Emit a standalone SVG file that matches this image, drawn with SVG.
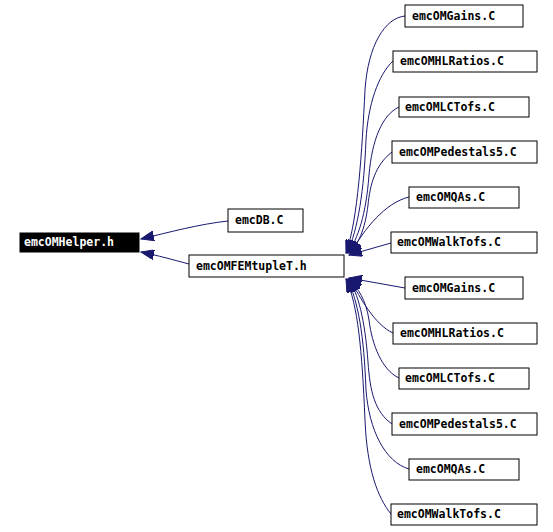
<svg xmlns="http://www.w3.org/2000/svg" width="553" height="532" viewBox="0 0 553 532">
<style>
.n rect{fill:#fff;stroke:#000;stroke-width:1}
.n text{font-family:"DejaVu Sans Mono","Liberation Mono",monospace;font-weight:bold;font-size:11.5px;fill:#000}
#helper rect{fill:#000}
#helper text{fill:#fff}
.e path{fill:none;stroke:#191970;stroke-width:1;marker-end:url(#ah)}
</style>
<defs>
<marker id="ah" markerUnits="userSpaceOnUse" markerWidth="14" markerHeight="10" refX="13" refY="5" orient="auto" viewBox="0 0 14 10">
<path d="M0,0 L13,5 L0,10 z" fill="#191970" stroke="#191970"/>
</marker>
</defs>
<rect width="553" height="532" fill="#fff"/>
<g id="edges" class="e">
<path d="M228,221 C200,224 170,232 141,239"/>
<path d="M189,264 C170,259 160,256 141,252"/>
<path d="M405,16 C385,18 368,45 365,90 C362,150 358,220 346,253"/>
<path d="M393,61 C378,75 368,105 366,140 C364,190 358,230 347,253"/>
<path d="M399,107 C382,115 372,140 369,175 C366,215 358,238 348,253"/>
<path d="M392,152 C375,165 370,185 368,205 C365,230 358,245 349,253"/>
<path d="M409,197 C385,203 365,228 350,254"/>
<path d="M391,243 L349,255"/>
<path d="M405,288 L349,278"/>
<path d="M393,333 C375,325 360,298 350,279"/>
<path d="M399,378 C382,370 372,345 369,320 C366,300 358,288 349,279"/>
<path d="M392,424 C375,412 370,392 368,362 C365,320 358,292 348,279"/>
<path d="M409,469 C385,462 369,430 366,390 C364,335 358,300 347,279"/>
<path d="M391,514 C378,498 367,470 365,420 C362,350 358,305 346,279"/>
</g>
<g id="helper" class="n"><rect x="20" y="233" width="119" height="19"/><text x="24" y="246">emcOMHelper.h</text></g>
<g id="emcDB" class="n"><rect x="228" y="209" width="75" height="23"/><text x="235" y="224">emcDB.C</text></g>
<g id="femtuple" class="n"><rect x="189" y="255" width="155" height="22"/><text x="196" y="270">emcOMFEMtupleT.h</text></g>
<g id="gains1" class="n"><rect x="405" y="5" width="118" height="22"/><text x="412" y="20">emcOMGains.C</text></g>
<g id="hlratios1" class="n"><rect x="393" y="51" width="144" height="21"/><text x="400" y="65">emcOMHLRatios.C</text></g>
<g id="lctofs1" class="n"><rect x="399" y="97" width="130" height="20"/><text x="405" y="111">emcOMLCTofs.C</text></g>
<g id="pedestals1" class="n"><rect x="392" y="141" width="145" height="22"/><text x="399" y="156">emcOMPedestals5.C</text></g>
<g id="qas1" class="n"><rect x="409" y="187" width="110" height="21"/><text x="416" y="201">emcOMQAs.C</text></g>
<g id="walktofs1" class="n"><rect x="391" y="232" width="146" height="21"/><text x="397" y="246">emcOMWalkTofs.C</text></g>
<g id="gains2" class="n"><rect x="405" y="277" width="118" height="22"/><text x="412" y="292">emcOMGains.C</text></g>
<g id="hlratios2" class="n"><rect x="393" y="323" width="144" height="21"/><text x="400" y="337">emcOMHLRatios.C</text></g>
<g id="lctofs2" class="n"><rect x="399" y="368" width="130" height="21"/><text x="405" y="382">emcOMLCTofs.C</text></g>
<g id="pedestals2" class="n"><rect x="392" y="413" width="145" height="22"/><text x="399" y="428">emcOMPedestals5.C</text></g>
<g id="qas2" class="n"><rect x="409" y="459" width="110" height="21"/><text x="416" y="473">emcOMQAs.C</text></g>
<g id="walktofs2" class="n"><rect x="391" y="504" width="146" height="21"/><text x="397" y="518">emcOMWalkTofs.C</text></g>
</svg>
